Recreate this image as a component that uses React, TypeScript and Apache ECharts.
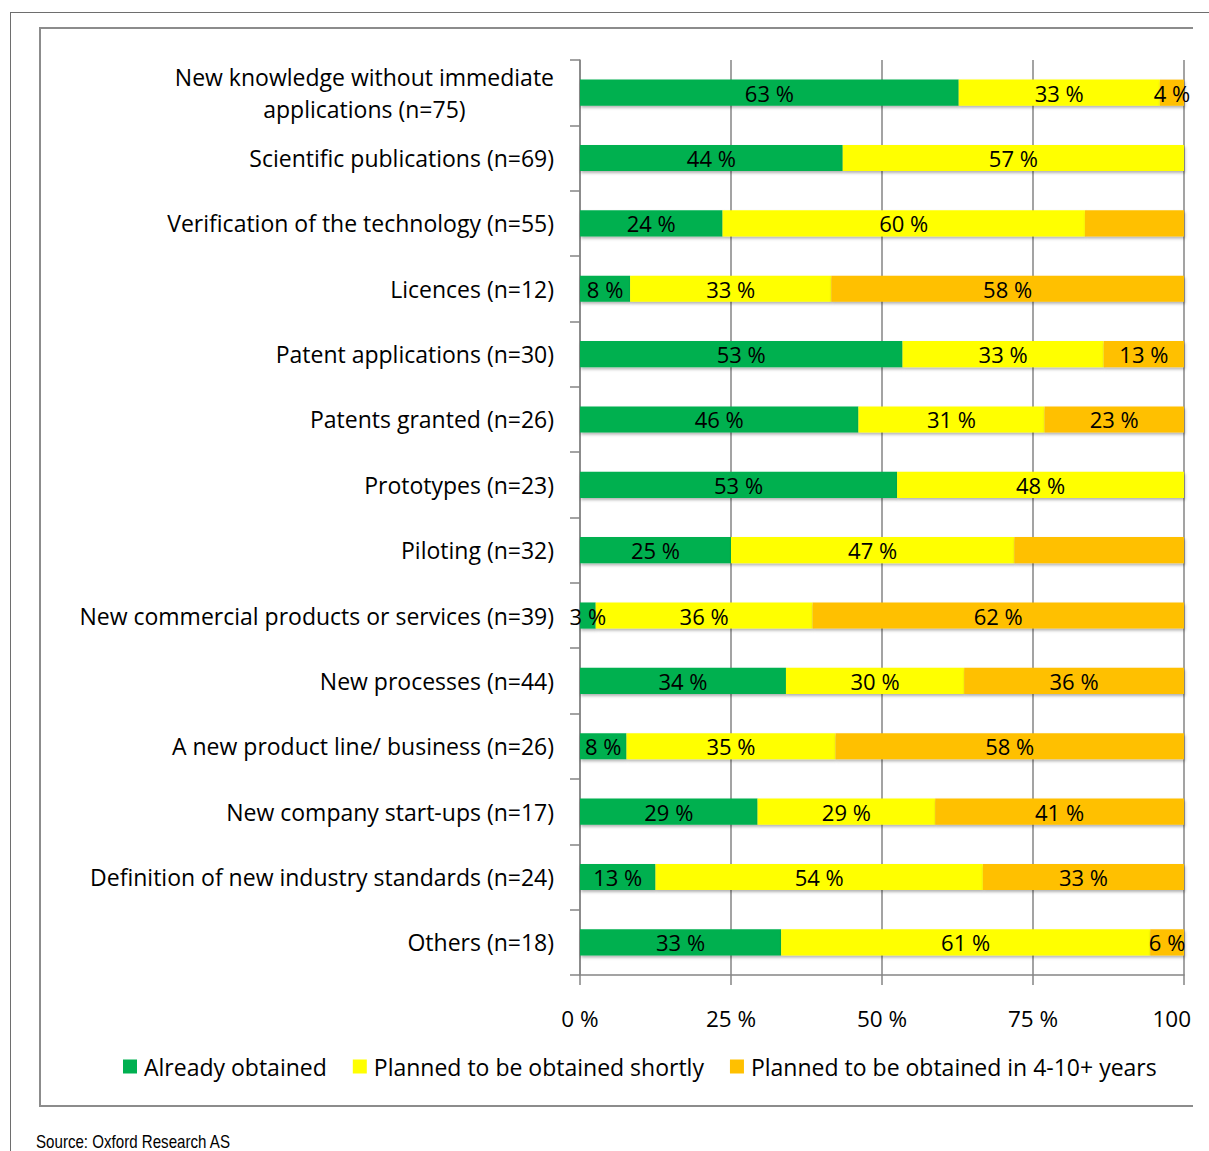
import React, { useEffect, useRef } from "react";
import * as echarts from "echarts";

// Outcome categories, top to bottom
const categories: string[] = [
  "New knowledge without immediate\napplications (n=75)",
  "Scientific publications (n=69)",
  "Verification of the technology (n=55)",
  "Licences (n=12)",
  "Patent applications (n=30)",
  "Patents granted (n=26)",
  "Prototypes (n=23)",
  "Piloting (n=32)",
  "New commercial products or services (n=39)",
  "New processes (n=44)",
  "A new product line/ business (n=26)",
  "New company start-ups (n=17)",
  "Definition of new industry standards (n=24)",
  "Others (n=18)",
];

// Share of respondents (%) per category
const alreadyObtained: number[] = [62.7, 43.5, 23.6, 8.3, 53.4, 46.1, 52.5, 25.0, 2.6, 34.1, 7.7, 29.4, 12.5, 33.3];
const plannedShortly: number[] = [33.3, 56.5, 60.0, 33.3, 33.3, 30.8, 47.5, 46.9, 35.9, 29.5, 34.6, 29.4, 54.2, 61.1];
const plannedLater: number[] = [4.0, 0, 16.4, 58.4, 13.3, 23.1, 0, 28.1, 61.5, 36.4, 57.7, 41.2, 33.3, 5.6];

// Segments that carry no value label
const unlabeledLater: number[] = [2, 7];

const xTicks: number[] = [0, 25, 50, 75, 100];

const seriesNames: string[] = [
  "Already obtained",
  "Planned to be obtained shortly",
  "Planned to be obtained in 4-10+ years",
];
const seriesColors: string[] = ["#00B050", "#FFFF00", "#FFC000"];

const FONT = "Open Sans";

export default function App() {
  const ref = useRef<HTMLDivElement | null>(null);

  useEffect(() => {
    if (!ref.current) return;
    const chart = echarts.init(ref.current, null, { renderer: "svg" });

    const makeData = (vals: number[], hidden: number[] = []) =>
      vals.map((v, i) => {
        if (v === 0 || hidden.includes(i)) return { value: v, label: { show: false } };
        return { value: v };
      });

    const seriesValues = [alreadyObtained, plannedShortly, plannedLater];

    chart.setOption({
      animation: false,
      grid: {
        left: 580,
        right: 9,
        top: 60,
        bottom: 176,
        containLabel: false,
        outerBoundsMode: "none",
      },
      xAxis: {
        type: "value",
        min: xTicks[0],
        max: xTicks[xTicks.length - 1],
        interval: 25,
        axisLine: { show: true, lineStyle: { color: "#858585", width: 1.5 } },
        axisTick: { show: true, length: 10, lineStyle: { color: "#858585", width: 1.5 } },
        splitLine: { show: true, lineStyle: { color: "#858585", width: 1.5 } },
        axisLabel: {
          formatter: "{value} %",
          fontFamily: FONT,
          fontSize: 22.5,
          color: "#000",
          margin: 32,
          hideOverlap: false,
        },
      },
      yAxis: {
        type: "category",
        inverse: true,
        data: categories,
        axisLine: { show: true, lineStyle: { color: "#858585", width: 1.5 } },
        axisTick: { show: true, length: 10, lineStyle: { color: "#858585", width: 1.5 } },
        axisLabel: {
          margin: 26,
          color: "#000",
          fontFamily: FONT,
          fontSize: 23,
          interval: 0,
          formatter: (val: string) =>
            val
              .split("\n")
              .map((line) => "{c|" + line + "}")
              .join("\n"),
          rich: {
            c: {
              align: "center",
              fontFamily: FONT,
              fontSize: 23,
              color: "#000",
              lineHeight: 32,
            },
          },
        },
      },
      legend: {
        left: 118,
        top: 1050,
        icon: "rect",
        itemWidth: 14,
        itemHeight: 14,
        itemGap: 26,
        textStyle: { fontFamily: FONT, fontSize: 23, color: "#000", padding: [0, 0, 0, 2] },
        data: seriesNames,
      },
      series: seriesNames.map((name, k) => ({
        name,
        type: "bar",
        stack: "total",
        barCategoryGap: "60%",
        data: makeData(seriesValues[k], k === 2 ? unlabeledLater : []),
        itemStyle: {
          color: seriesColors[k],
          shadowColor: "rgba(0,0,0,0.3)",
          shadowBlur: 3,
          shadowOffsetX: 1,
          shadowOffsetY: 2,
        },
        label: {
          show: true,
          position: "inside",
          color: "#000",
          fontFamily: FONT,
          fontSize: 22,
          formatter: (p: any) => Math.round(p.value) + " %",
        },
      })),
      graphic: [
        {
          type: "rect",
          z: -1,
          silent: true,
          shape: { x: 40, y: 28, width: 1200, height: 1078 },
          style: { fill: "none", stroke: "#8c8c8c", lineWidth: 2 },
        },
        {
          type: "text",
          x: 36,
          y: 1133,
          scaleX: 0.84,
          style: {
            text: "Source: Oxford Research AS",
            fontFamily: "Liberation Sans",
            fontSize: 18,
            fill: "#000",
          },
        },
      ],
    });

    return () => chart.dispose();
  }, []);

  return (
    <div
      style={{
        position: "absolute",
        left: 0,
        top: 0,
        width: 1209,
        height: 1151,
        overflow: "hidden",
        background: "#fff",
      }}
    >
      <div
        style={{
          position: "absolute",
          left: 10,
          top: 12,
          width: 1300,
          height: 1300,
          borderTop: "1px solid #6e6e6e",
          borderLeft: "1px solid #6e6e6e",
        }}
      />
      <div
        ref={ref}
        style={{ position: "absolute", left: 0, top: 0, width: 1193, height: 1151 }}
      />
    </div>
  );
}
